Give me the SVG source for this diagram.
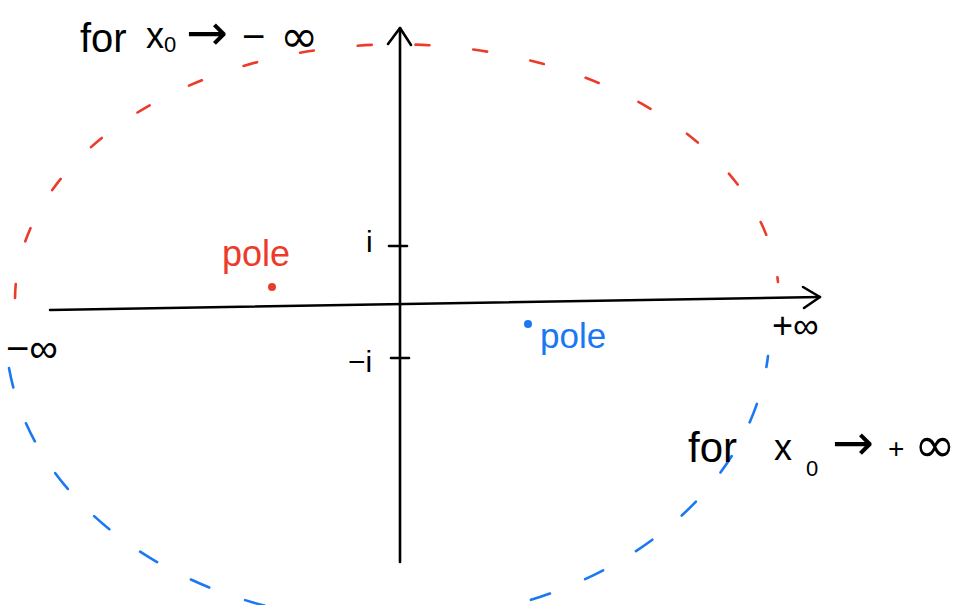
<svg xmlns="http://www.w3.org/2000/svg" width="969" height="605" viewBox="0 0 969 605">
<style>
.ax{stroke:#000;stroke-width:2.6;fill:none;stroke-linecap:round;stroke-linejoin:round}
.red{stroke:#ec3b2a;stroke-width:2.6;fill:none;stroke-linecap:round;stroke-dasharray:14 44}
.blue{stroke:#1a78f2;stroke-width:2.6;fill:none;stroke-linecap:round;stroke-dasharray:20 38}
text{font-family:"Liberation Sans","DejaVu Sans",sans-serif}
.sym{font-family:"DejaVu Sans","Liberation Sans",sans-serif}
.k{fill:#000}
.r{fill:#ec3b2a}
.b{fill:#1a78f2}
</style>
<rect width="969" height="605" fill="#fff"/>
<g id="contours">
<path class="red" d="M15,298 A382,256 0 0 1 778,282"/>
<path class="blue" d="M9,368 A382,292 0 0 0 768,356"/>
</g>
<g id="axes">
<path class="ax" d="M50,310 L820,297"/>
<path class="ax" d="M803,287 L820,297 L804,308"/>
<path class="ax" d="M400,562 L400,28"/>
<path class="ax" d="M388,44 L400,28 L411,45"/>
<path class="ax" d="M389,246 L407,246"/>
<path class="ax" d="M391,358 L409,358"/>
</g>
<g id="label-top">
<text x="80" y="52" font-size="40" class="k">for</text>
<text x="146" y="48" font-size="36" class="k">x<tspan font-size="22" dy="4">0</tspan></text>
<text x="186" y="50" font-size="50" class="k sym">→</text>
<text x="242" y="50" font-size="40" class="k">−</text>
<text x="280" y="52" font-size="46" class="k sym">∞</text>
</g>
<g id="label-bottom">
<text x="688" y="462" font-size="42" class="k">for</text>
<text x="774" y="460" font-size="36" class="k">x</text>
<text x="806" y="476" font-size="22" class="k">0</text>
<text x="832" y="460" font-size="50" class="k sym">→</text>
<text x="888" y="458" font-size="28" class="k">+</text>
<text x="914" y="462" font-size="50" class="k sym">∞</text>
</g>
<g id="poles">
<text x="222" y="266" font-size="36" class="r">pole</text>
<circle cx="272" cy="287" r="4" class="r"/>
<circle cx="528" cy="324" r="4" class="b"/>
<text x="540" y="348" font-size="35" class="b">pole</text>
</g>
<g id="ticks">
<text x="366" y="252" font-size="30" class="k">i</text>
<text x="348" y="372" font-size="30" class="k">−i</text>
<text x="6" y="362" font-size="40" class="k">−∞</text>
<text x="772" y="338" font-size="36" class="k">+∞</text>
</g>
</svg>
